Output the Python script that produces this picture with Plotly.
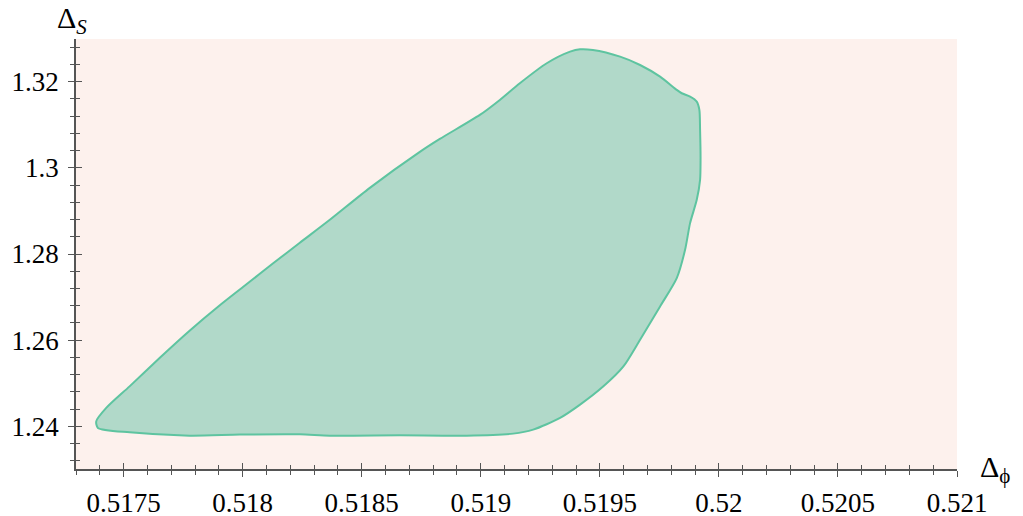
import plotly.graph_objects as go

# contour boundary (Delta_phi, Delta_S), traced clockwise from the left tip
delta_phi = [
    0.517385, 0.517427, 0.517525, 0.517651, 0.517777, 0.517904, 0.518016,
    0.518128, 0.518240, 0.518366, 0.518534, 0.518744, 0.518828, 0.518996,
    0.519080, 0.519164, 0.519277, 0.519375, 0.519417, 0.519471, 0.519585,
    0.519669, 0.519753, 0.519823, 0.519844, 0.519879, 0.519907, 0.519918,
    0.519921, 0.519923, 0.519921, 0.519907, 0.519879, 0.519858, 0.519823,
    0.519753, 0.519669, 0.519599, 0.519515, 0.519417, 0.519333, 0.519220,
    0.519136, 0.518940, 0.518660, 0.518366, 0.518240, 0.517988, 0.517777,
    0.517525, 0.517392, 0.517385,
]
delta_s = [
    1.24116, 1.24427, 1.24928, 1.25586, 1.26219, 1.26810, 1.27297,
    1.27784, 1.28260, 1.28793, 1.29535, 1.30370, 1.30671, 1.31228,
    1.31576, 1.31963, 1.32427, 1.32696, 1.32751, 1.32735, 1.32580,
    1.32387, 1.32116, 1.31808, 1.31731, 1.31652, 1.31536, 1.31344,
    1.30880, 1.30184, 1.29721, 1.29257, 1.28717, 1.28097, 1.27441,
    1.26783, 1.26010, 1.25391, 1.24928, 1.24503, 1.24195, 1.23923,
    1.23831, 1.23784, 1.23791, 1.23784, 1.23814, 1.23808, 1.23784,
    1.23861, 1.23963, 1.24116,
]

x_ticks = [0.5175, 0.518, 0.5185, 0.519, 0.5195, 0.52, 0.5205, 0.521]
x_labels = ["0.5175", "0.518", "0.5185", "0.519", "0.5195", "0.52", "0.5205", "0.521"]
y_ticks = [1.24, 1.26, 1.28, 1.30, 1.32]
y_labels = ["1.24", "1.26", "1.28", "1.3", "1.32"]

x_range = [0.5173, 0.5210]
y_range = [1.2301, 1.3299]

FONT = "Liberation Serif, DejaVu Serif, serif"
AXIS_COL = "#555555"

fig = go.Figure()
fig.add_trace(go.Scatter(
    x=delta_phi, y=delta_s, mode="lines", fill="toself",
    fillcolor="rgb(177,217,201)",
    line=dict(color="#5ec4a0", width=2, shape="spline", smoothing=0.7),
    hoverinfo="skip", showlegend=False,
))
# empty trace so the overlay axes (inner half of the ticks) get drawn
fig.add_trace(go.Scatter(x=[None], y=[None], xaxis="x2", yaxis="y2",
                         showlegend=False, hoverinfo="skip"))

tick_common = dict(showgrid=False, zeroline=False, tickcolor=AXIS_COL, automargin=False,
                   tickwidth=1, tickfont=dict(family=FONT, size=27, color="black"))

# page body adds an 8px margin, so the figure is 8px smaller than the window
fig.update_layout(
    width=1015, height=508,
    margin=dict(l=68, r=66, t=31, b=47),
    paper_bgcolor="white",
    plot_bgcolor="rgb(253,241,237)",
    font=dict(family=FONT, color="black"),
    xaxis=dict(range=x_range, tickmode="array", tickvals=x_ticks, ticktext=x_labels,
               ticks="outside", ticklen=6, showline=True, linecolor=AXIS_COL, linewidth=1.5,
               minor=dict(tick0=0.5173, dtick=0.0001, ticks="outside", ticklen=4,
                          tickcolor=AXIS_COL, showgrid=False),
               ticklabelstandoff=3, **tick_common),
    yaxis=dict(range=y_range, tickmode="array", tickvals=y_ticks, ticktext=y_labels,
               ticks="outside", ticklen=6, showline=True, linecolor=AXIS_COL, linewidth=1.5,
               minor=dict(tick0=1.24, dtick=0.004, ticks="outside", ticklen=4,
                          tickcolor=AXIS_COL, showgrid=False),
               ticklabelstandoff=4, **tick_common),
    xaxis2=dict(range=x_range, overlaying="x", anchor="y2", side="bottom",
                tickmode="array", tickvals=x_ticks, ticks="inside", ticklen=6,
                showticklabels=False, showline=False, automargin=False,
                minor=dict(tick0=0.5173, dtick=0.0001, ticks="inside", ticklen=4,
                           tickcolor=AXIS_COL, showgrid=False),
                showgrid=False, zeroline=False, tickcolor=AXIS_COL),
    yaxis2=dict(range=y_range, overlaying="y", anchor="x2", side="left",
                tickmode="array", tickvals=y_ticks, ticks="inside", ticklen=6,
                showticklabels=False, showline=False, automargin=False,
                minor=dict(tick0=1.24, dtick=0.004, ticks="inside", ticklen=4,
                           tickcolor=AXIS_COL, showgrid=False),
                showgrid=False, zeroline=False, tickcolor=AXIS_COL),
    annotations=[
        dict(text="Δ<sub><i>S</i></sub>", xref="paper", yref="paper",
             x=-0.024, y=1.045, xanchor="left", yanchor="middle", showarrow=False,
             font=dict(family=FONT, size=30, color="black")),
        dict(text="Δ<sub>ϕ</sub>", xref="paper", yref="paper",
             x=1.024, y=0.0, xanchor="left", yanchor="middle", showarrow=False,
             font=dict(family=FONT, size=30, color="black")),
    ],
)

fig.write_html("out.html")
